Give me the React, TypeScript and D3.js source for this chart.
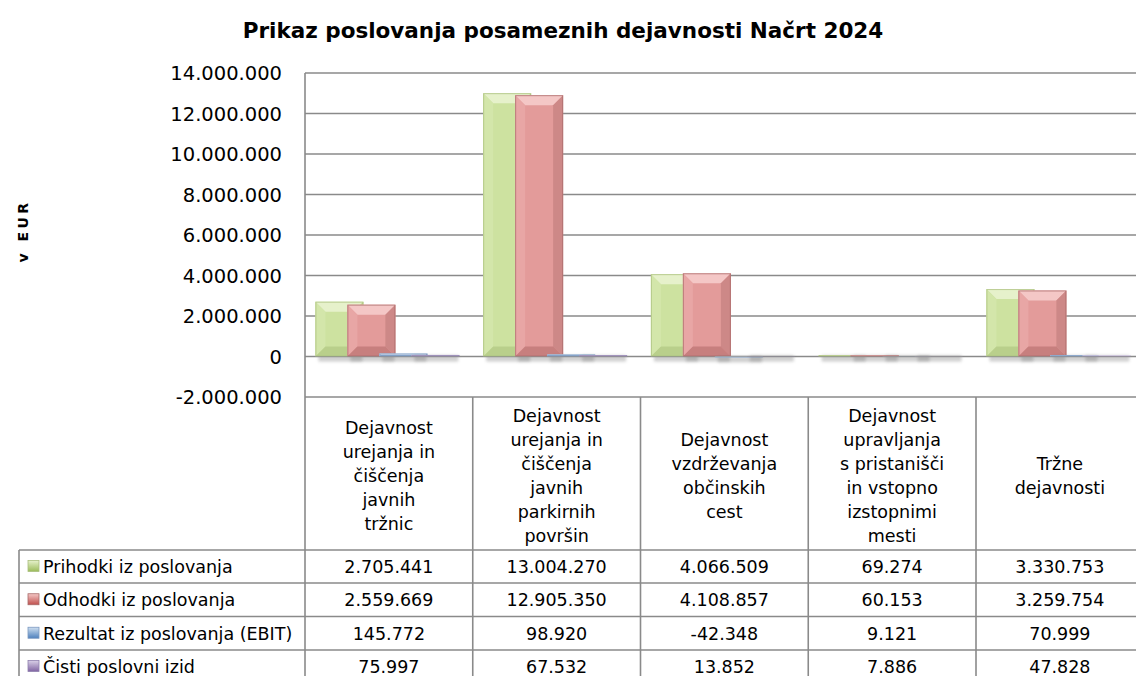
import React from "react";
import * as d3 from "d3";

const title = "Prikaz poslovanja posameznih dejavnosti Načrt 2024";
const yAxisTitle = "v EUR";
const categories = [
  "Dejavnost\nurejanja in\nčiščenja\njavnih\ntržnic",
  "Dejavnost\nurejanja in\nčiščenja\njavnih\nparkirnih\npovršin",
  "Dejavnost\nvzdrževanja\nobčinskih\ncest",
  "Dejavnost\nupravljanja\ns pristanišči\nin vstopno\nizstopnimi\nmesti",
  "Tržne\ndejavnosti",
];
const seriesNames = [
  "Prihodki iz poslovanja",
  "Odhodki iz poslovanja",
  "Rezultat iz poslovanja (EBIT)",
  "Čisti poslovni izid",
];
const prihodki = [2705441, 13004270, 4066509, 69274, 3330753];
const odhodki = [2559669, 12905350, 4108857, 60153, 3259754];
const ebit = [145772, 98920, -42348, 9121, 70999];
const cisti = [75997, 67532, 13852, 7886, 47828];
const yTicks = [-2000000, 0, 2000000, 4000000, 6000000, 8000000, 10000000, 12000000, 14000000];

const seriesValues = [prihodki, odhodki, ebit, cisti];
const palette = [
  { base: "#cde2a0", top: "#e6f1cb", left: "#d3e6aa", right: "#bdd48f", bottom: "#b9cf8b", edge: "#aabf7e", marker: "#9bbb59" },
  { base: "#e39b9a", top: "#f4c7c6", left: "#e8a6a5", right: "#cd8887", bottom: "#c77f7e", edge: "#a86a69", marker: "#c0504d" },
  { base: "#a9c4e2", top: "#cfdff0", left: "#b6cde7", right: "#8eabd0", bottom: "#88a5ca", edge: "#7b99c0", marker: "#4f81bd" },
  { base: "#bcaed4", top: "#d9d0e7", left: "#c6bada", right: "#a596c2", bottom: "#9d8ebb", edge: "#8f80ae", marker: "#8064a2" },
];

const W = 1136;
const H = 676;
const plotLeft = 305;
const plotTop = 73;
const plotBottom = 397;
const bandW = 167.75;
const rowTops = [550, 583, 616.5, 650, 683];
const tableLeft = 19;
const FONT = "'DejaVu Sans', Verdana, sans-serif";
const GRID = "#8a8a8a";

const fmt = d3
  .formatLocale({ decimal: ",", thousands: ".", grouping: [3], currency: ["", ""], minus: "-" })
  .format(",.0f");

function Bar({ x, y0, y1, w, c }: { x: number; y0: number; y1: number; w: number; c: any }) {
  const top = Math.min(y0, y1);
  const h = Math.abs(y1 - y0);
  if (h < 0.01) return null;
  const b = Math.min(10, h / 2, w / 2);
  const X = x, Y = top, R = x + w, B = top + h;
  const pts = (a: number[][]) => a.map((p) => p.join(",")).join(" ");
  return (
    <g>
      <rect x={X + 3} y={B - 1} width={w - 4} height={6} fill="#777" opacity={0.35} filter="url(#blur)" />
      <rect x={X} y={Y} width={w} height={h} fill={c.base} />
      <polygon points={pts([[X, Y], [R, Y], [R - b, Y + b], [X + b, Y + b]])} fill={c.top} />
      <polygon points={pts([[X, Y], [X + b, Y + b], [X + b, B - b], [X, B]])} fill={c.left} />
      <polygon points={pts([[R, Y], [R, B], [R - b, B - b], [R - b, Y + b]])} fill={c.right} />
      <polygon points={pts([[X, B], [X + b, B - b], [R - b, B - b], [R, B]])} fill={c.bottom} />
      <rect x={X + 0.5} y={Y + 0.5} width={Math.max(0, w - 1)} height={Math.max(0, h - 1)} fill="none" stroke={c.edge} strokeWidth={1} opacity={0.7} />
    </g>
  );
}

export default function App() {
  const y = d3.scaleLinear().domain([-2000000, 14000000]).range([plotBottom, plotTop]);
  const x = d3.scaleBand<number>().domain(d3.range(categories.length)).range([plotLeft, plotLeft + bandW * categories.length]).padding(0);
  const bw = x.bandwidth();
  const barW = bw * 0.286;
  const step = barW * (2 / 3);
  const total = step * (seriesValues.length - 1) + barW;
  const off = (bw - total) / 2 - 1.5;
  const right = plotLeft + bandW * categories.length;

  return (
    <svg width={W} height={H} style={{ position: "absolute", left: 0, top: 0, background: "#fff" }} fontFamily={FONT}>
      <defs>
        <filter id="blur" x="-20%" y="-100%" width="140%" height="300%">
          <feGaussianBlur stdDeviation="1.6" />
        </filter>
        {palette.map((c, i) => (
          <linearGradient key={i} id={`mk${i}`} x1="0" y1="0" x2="0" y2="1">
            <stop offset="0" stopColor={c.top} />
            <stop offset="1" stopColor={c.marker} />
          </linearGradient>
        ))}
      </defs>
      <rect x={0} y={0} width={W} height={H} fill="#fff" />
      <text x={563} y={38} textAnchor="middle" fontSize={21.5} fontWeight="bold" fill="#000" fontFamily="'DejaVu Sans', sans-serif">
        {title}
      </text>
      <text transform={`translate(28,231) rotate(-90)`} textAnchor="middle" fontSize={14} fontWeight="bold" letterSpacing={3.5} fill="#000">
        {yAxisTitle}
      </text>

      {/* gridlines */}
      {yTicks.map((t) => (
        <line key={t} x1={plotLeft} x2={right} y1={y(t)} y2={y(t)} stroke={GRID} strokeWidth={1.6} />
      ))}
      <line x1={plotLeft} x2={plotLeft} y1={plotTop} y2={plotBottom} stroke={GRID} strokeWidth={1.6} />
      {yTicks.map((t) => (
        <text key={"l" + t} x={282} y={y(t) + 7} textAnchor="end" fontSize={19.5} fill="#000">
          {fmt(t)}
        </text>
      ))}

      {/* bars */}
      {categories.map((_, ci) =>
        seriesValues.map((vals, si) => (
          <Bar key={ci + "-" + si} x={(x(ci) as number) + off + si * step} y0={y(0)} y1={y(vals[ci])} w={barW} c={palette[si]} />
        ))
      )}
      <line x1={plotLeft} x2={right} y1={y(0)} y2={y(0)} stroke={GRID} strokeWidth={1.2} opacity={0.6} />

      {/* table: header cells */}
      {d3.range(categories.length + 1).map((i) => (
        <line key={"v" + i} x1={plotLeft + i * bandW} x2={plotLeft + i * bandW} y1={plotBottom} y2={H} stroke={GRID} strokeWidth={1.6} />
      ))}
      <line x1={tableLeft} x2={tableLeft} y1={rowTops[0]} y2={H} stroke={GRID} strokeWidth={1.6} />
      {rowTops.map((r, i) => (
        <line key={"h" + i} x1={tableLeft} x2={right} y1={r} y2={r} stroke={GRID} strokeWidth={1.6} />
      ))}
      {categories.map((c, ci) => {
        const lines = c.split("\n");
        const lh = 24;
        const cy = 476;
        const cx = (x(ci) as number) + bw / 2;
        return (
          <text key={"c" + ci} textAnchor="middle" fontSize={17.5} fill="#000">
            {lines.map((ln, li) => (
              <tspan key={li} x={cx} y={cy - ((lines.length - 1) * lh) / 2 + li * lh + 6}>
                {ln}
              </tspan>
            ))}
          </text>
        );
      })}
      {seriesNames.map((name, si) => {
        const cy = (rowTops[si] + rowTops[si + 1]) / 2;
        return (
          <g key={"r" + si}>
            <rect x={28} y={cy - 6} width={11} height={11} fill={`url(#mk${si})`} stroke={palette[si].edge} strokeWidth={0.8} />
            <text x={43} y={cy + 6.5} fontSize={17.5} fill="#000">
              {name}
            </text>
            {seriesValues[si].map((v, ci) => (
              <text key={ci} x={(x(ci) as number) + bw / 2} y={cy + 6.5} textAnchor="middle" fontSize={17.5} fill="#000">
                {fmt(v)}
              </text>
            ))}
          </g>
        );
      })}
    </svg>
  );
}
